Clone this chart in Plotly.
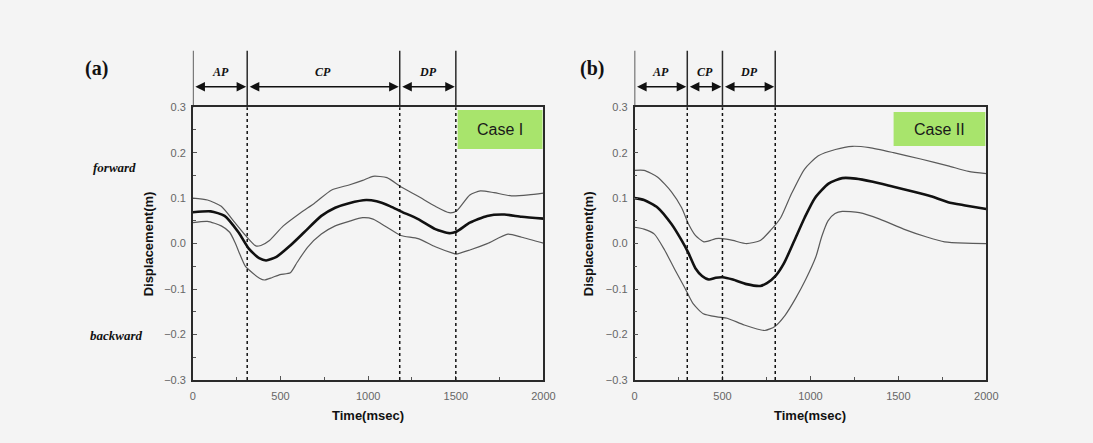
import plotly.graph_objects as go

W, H = 1093, 443

# ---------------- data ----------------
a_t_mean = [0, 102, 181, 260, 319, 378, 418, 477, 556, 635, 733, 812, 891, 989, 1048, 1127, 1186, 1285, 1383, 1462, 1502, 1580, 1679, 1777, 1876, 2000]
a_mean = [0.069, 0.071, 0.061, 0.025, -0.011, -0.032, -0.037, -0.029, -0.004, 0.025, 0.061, 0.079, 0.089, 0.096, 0.093, 0.082, 0.071, 0.054, 0.032, 0.023, 0.026, 0.046, 0.061, 0.064, 0.059, 0.055]

a_t_upper = [0, 83, 162, 240, 300, 359, 388, 437, 516, 615, 694, 792, 891, 969, 1028, 1107, 1186, 1285, 1383, 1462, 1502, 1580, 1640, 1718, 1817, 1915, 2000]
a_upper = [0.100, 0.096, 0.082, 0.046, 0.018, -0.005, -0.004, 0.007, 0.039, 0.068, 0.089, 0.118, 0.129, 0.139, 0.148, 0.145, 0.125, 0.104, 0.082, 0.068, 0.071, 0.107, 0.116, 0.112, 0.105, 0.107, 0.111]

a_t_lower = [0, 83, 162, 210, 240, 270, 300, 339, 380, 408, 450, 497, 556, 595, 654, 733, 812, 891, 969, 1028, 1107, 1186, 1285, 1383, 1482, 1502, 1580, 1679, 1797, 1876, 2000]
a_lower = [0.046, 0.049, 0.039, 0.025, 0.003, -0.025, -0.050, -0.064, -0.076, -0.080, -0.075, -0.068, -0.064, -0.041, -0.008, 0.021, 0.039, 0.049, 0.057, 0.054, 0.036, 0.018, 0.011, -0.007, -0.021, -0.023, -0.014, 0.000, 0.021, 0.014, 0.001]

b_t_mean = [0, 54, 132, 210, 268, 307, 346, 384, 423, 462, 501, 559, 637, 715, 753, 802, 850, 909, 967, 1025, 1103, 1181, 1258, 1355, 1472, 1588, 1685, 1783, 1880, 2000]
b_mean = [0.100, 0.096, 0.079, 0.043, 0.007, -0.021, -0.054, -0.071, -0.079, -0.075, -0.074, -0.079, -0.089, -0.093, -0.087, -0.071, -0.043, 0.007, 0.057, 0.100, 0.132, 0.144, 0.143, 0.136, 0.125, 0.114, 0.104, 0.091, 0.084, 0.076]

b_t_upper = [0, 54, 132, 210, 268, 307, 346, 394, 423, 462, 501, 559, 637, 715, 773, 831, 889, 967, 1045, 1142, 1239, 1336, 1472, 1627, 1783, 1899, 2000]
b_upper = [0.161, 0.161, 0.146, 0.114, 0.079, 0.043, 0.018, 0.004, 0.006, 0.011, 0.011, 0.007, 0.000, 0.007, 0.029, 0.057, 0.107, 0.164, 0.193, 0.207, 0.214, 0.211, 0.200, 0.186, 0.171, 0.159, 0.154]

b_t_lower = [0, 54, 113, 171, 229, 287, 333, 391, 469, 527, 624, 740, 798, 857, 915, 973, 1031, 1064, 1100, 1140, 1181, 1278, 1394, 1530, 1666, 1763, 1880, 2000]
b_lower = [0.036, 0.032, 0.021, -0.014, -0.057, -0.098, -0.132, -0.154, -0.161, -0.164, -0.179, -0.191, -0.182, -0.157, -0.121, -0.079, -0.029, 0.015, 0.050, 0.066, 0.071, 0.068, 0.054, 0.032, 0.014, 0.004, 0.001, 0.000]

# phase boundaries (msec) and labels
a_bounds = [0, 310, 1180, 1500]
b_bounds = [0, 300, 500, 800]
phase_labels = ["AP", "CP", "DP"]
case_labels = ["Case I", "Case II"]
panel_labels = ["(a)", "(b)"]
x_ticks = [0, 500, 1000, 1500, 2000]
y_ticks = [-0.3, -0.2, -0.1, 0.0, 0.1, 0.2, 0.3]

# ---------------- layout geometry ----------------
def px_x(p):
    return p / W

def px_y(p):
    return 1 - p / H

xa_dom = [px_x(192.5), px_x(548)]
xb_dom = [px_x(640.3), px_x(997)]
y_dom = [px_y(384.5), px_y(104)]

BG = "#f4f4f4"
fig = go.Figure()

def add_curves(t_m, m, t_u, u, t_l, l, xr, yr):
    for tt, vv, w, c in [(t_u, u, 1.2, "#5a5a5a"), (t_l, l, 1.2, "#5a5a5a"), (t_m, m, 2.6, "#111111")]:
        fig.add_trace(go.Scatter(x=tt, y=vv, mode="lines", xaxis=xr, yaxis=yr,
                                 line=dict(color=c, width=w, shape="spline", smoothing=0.6),
                                 showlegend=False, hoverinfo="skip"))

add_curves(a_t_mean, a_mean, a_t_upper, a_upper, a_t_lower, a_lower, "x", "y")
add_curves(b_t_mean, b_mean, b_t_upper, b_upper, b_t_lower, b_lower, "x2", "y2")

axis_common = dict(showline=True, mirror=True, linecolor="#2a2a2a", linewidth=1.5,
                   ticks="inside", ticklen=4, tickcolor="#555", tickwidth=1,
                   showgrid=False, zeroline=False,
                   tickfont=dict(family="Arial, Liberation Sans", size=11, color="#666"))

xminor = dict(ticks="inside", ticklen=3, dtick=250, tickcolor="#555")
yminor = dict(ticks="inside", ticklen=3, dtick=0.05, tickcolor="#555")

fig.update_layout(
    width=W, height=H, margin=dict(l=0, r=0, t=0, b=0),
    paper_bgcolor=BG, plot_bgcolor=BG, showlegend=False,
    xaxis=dict(domain=xa_dom, range=[0, 2000], tickvals=x_ticks, anchor="y", ticklabelstandoff=5,
               minor=xminor, **axis_common),
    yaxis=dict(domain=y_dom, range=[-0.3, 0.3], tickvals=y_ticks, tickformat=".1f", anchor="x",
               ticklabelstandoff=3, minor=yminor, **axis_common),
    xaxis2=dict(domain=xb_dom, range=[0, 2000], tickvals=x_ticks, anchor="y2", ticklabelstandoff=5,
                minor=xminor, **axis_common),
    yaxis2=dict(domain=y_dom, range=[-0.3, 0.3], tickvals=y_ticks, tickformat=".1f", anchor="x2",
                ticklabelstandoff=3, minor=yminor, **axis_common),
)

shapes = []
annotations = []
y_top_hdr = px_y(46)
y_plot_top = px_y(104)
y_arrow = px_y(83)
y_lab = px_y(68)

CTR = dict(xanchor="center", yanchor="middle")

for xr, bounds in [("x", a_bounds), ("x2", b_bounds)]:
    yr = "y" if xr == "x" else "y2"
    for i, b in enumerate(bounds):
        shapes.append(dict(type="line", xref=xr, yref="paper", x0=b, x1=b, y0=y_plot_top, y1=y_top_hdr,
                           line=dict(color="#2a2a2a", width=1.5)))
        if i > 0:
            shapes.append(dict(type="line", xref=xr, yref=yr, x0=b, x1=b, y0=-0.3, y1=0.3,
                               line=dict(color="#111", width=1.5, dash="dot")))
    for i in range(3):
        s, e = bounds[i], bounds[i + 1]
        annotations.append(dict(xref=xr, yref="paper", x=e, y=y_arrow, axref=xr, ayref="pixel",
                                ax=s, ay=0, text="", showarrow=True, arrowside="end+start",
                                arrowhead=2, arrowsize=1.2, arrowwidth=1.6, arrowcolor="#111",
                                standoff=1, startstandoff=1))
        annotations.append(dict(xref=xr, yref="paper", x=(s + e) / 2, y=y_lab, text="<b><i>%s</i></b>" % phase_labels[i],
                                showarrow=False, **CTR,
                                font=dict(family="Liberation Serif, Times New Roman", size=12, color="#111")))

# panel labels
for cx, lab in zip([95, 597], panel_labels):
    annotations.append(dict(xref="paper", yref="paper", x=px_x(cx), y=px_y(64), text="<b>%s</b>" % lab,
                            showarrow=False, **CTR,
                            font=dict(family="Liberation Serif, Times New Roman", size=20, color="#111")))

# forward/backward
annotations.append(dict(xref="paper", yref="paper", x=px_x(137), y=px_y(166), xanchor="right", yanchor="middle",
                        text="<b><i>forward</i></b>",
                        showarrow=False, font=dict(family="Liberation Serif, Times New Roman", size=13, color="#111")))
annotations.append(dict(xref="paper", yref="paper", x=px_x(144), y=px_y(339), xanchor="right", yanchor="middle",
                        text="<b><i>backward</i></b>",
                        showarrow=False, font=dict(family="Liberation Serif, Times New Roman", size=13, color="#111")))

# axis titles
for cx in [147, 594]:
    annotations.append(dict(xref="paper", yref="paper", x=px_x(cx), y=px_y(244), text="<b>Displacement(m)</b>",
                            textangle=-90, showarrow=False, **CTR,
                            font=dict(family="Arial, Liberation Sans", size=13, color="#111")))
for cx in [370, 818]:
    annotations.append(dict(xref="paper", yref="paper", x=px_x(cx), y=px_y(421), text="<b>Time(msec)</b>",
                            showarrow=False, **CTR,
                            font=dict(family="Arial, Liberation Sans", size=13, color="#111")))

# case boxes
for (x0, x1, y0, y1), lab in zip([(461, 547, 107, 147), (903, 996, 109, 144)], case_labels):
    shapes.append(dict(type="rect", xref="paper", yref="paper", x0=px_x(x0), x1=px_x(x1), y0=px_y(y1), y1=px_y(y0),
                       fillcolor="#a8e46c", line=dict(width=0)))
    annotations.append(dict(xref="paper", yref="paper", x=px_x((x0 + x1) / 2), y=px_y((y0 + y1) / 2), text=lab,
                            showarrow=False, **CTR,
                            font=dict(family="Arial, Liberation Sans", size=16, color="#1a1a1a")))

fig.update_layout(shapes=shapes, annotations=annotations)
fig.write_html("out.html")
